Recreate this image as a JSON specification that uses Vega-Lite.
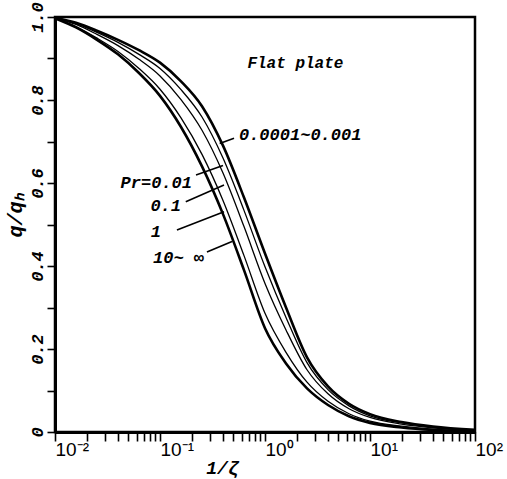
{
  "$schema": "https://vega.github.io/schema/vega-lite/v6.json",
  "width": 420,
  "height": 415,
  "autosize": {"type": "none"},
  "padding": {"left": 55, "top": 17, "right": 32, "bottom": 47},
  "background": "white",
  "config": {
    "view": {"stroke": "black", "strokeWidth": 2.5},
    "axis": {
      "domainColor": "black",
      "domainWidth": 3,
      "tickColor": "black",
      "tickWidth": 1.6,
      "grid": false,
      "labelColor": "black",
      "titleColor": "black"
    }
  },
  "datasets": {
    "curves": [
      {"pr": "10~∞", "x": 0.01, "y": 0.997}, {"pr": "10~∞", "x": 0.01585, "y": 0.975}, {"pr": "10~∞", "x": 0.02512, "y": 0.945},
      {"pr": "10~∞", "x": 0.03981, "y": 0.91}, {"pr": "10~∞", "x": 0.0631, "y": 0.865}, {"pr": "10~∞", "x": 0.1, "y": 0.81},
      {"pr": "10~∞", "x": 0.1585, "y": 0.735}, {"pr": "10~∞", "x": 0.2512, "y": 0.64}, {"pr": "10~∞", "x": 0.3981, "y": 0.525},
      {"pr": "10~∞", "x": 0.631, "y": 0.39}, {"pr": "10~∞", "x": 1, "y": 0.25}, {"pr": "10~∞", "x": 1.585, "y": 0.165},
      {"pr": "10~∞", "x": 2.512, "y": 0.105}, {"pr": "10~∞", "x": 3.981, "y": 0.065}, {"pr": "10~∞", "x": 6.31, "y": 0.038},
      {"pr": "10~∞", "x": 10, "y": 0.022}, {"pr": "10~∞", "x": 19.95, "y": 0.011}, {"pr": "10~∞", "x": 39.81, "y": 0.005},
      {"pr": "10~∞", "x": 100, "y": 0.002},

      {"pr": "1", "x": 0.01, "y": 0.997}, {"pr": "1", "x": 0.01585, "y": 0.977}, {"pr": "1", "x": 0.02512, "y": 0.949},
      {"pr": "1", "x": 0.03981, "y": 0.917}, {"pr": "1", "x": 0.0631, "y": 0.876}, {"pr": "1", "x": 0.1, "y": 0.826},
      {"pr": "1", "x": 0.1585, "y": 0.757}, {"pr": "1", "x": 0.2512, "y": 0.669}, {"pr": "1", "x": 0.3981, "y": 0.558},
      {"pr": "1", "x": 0.631, "y": 0.425}, {"pr": "1", "x": 1, "y": 0.286}, {"pr": "1", "x": 1.585, "y": 0.192},
      {"pr": "1", "x": 2.512, "y": 0.12}, {"pr": "1", "x": 3.981, "y": 0.074}, {"pr": "1", "x": 6.31, "y": 0.044},
      {"pr": "1", "x": 10, "y": 0.026}, {"pr": "1", "x": 19.95, "y": 0.014}, {"pr": "1", "x": 39.81, "y": 0.007},
      {"pr": "1", "x": 100, "y": 0.003},

      {"pr": "0.1", "x": 0.01, "y": 0.998}, {"pr": "0.1", "x": 0.01585, "y": 0.982}, {"pr": "0.1", "x": 0.02512, "y": 0.958},
      {"pr": "0.1", "x": 0.03981, "y": 0.931}, {"pr": "0.1", "x": 0.0631, "y": 0.898}, {"pr": "0.1", "x": 0.1, "y": 0.858},
      {"pr": "0.1", "x": 0.1585, "y": 0.801}, {"pr": "0.1", "x": 0.2512, "y": 0.727}, {"pr": "0.1", "x": 0.3981, "y": 0.624},
      {"pr": "0.1", "x": 0.631, "y": 0.495}, {"pr": "0.1", "x": 1, "y": 0.358}, {"pr": "0.1", "x": 1.585, "y": 0.246},
      {"pr": "0.1", "x": 2.512, "y": 0.15}, {"pr": "0.1", "x": 3.981, "y": 0.092}, {"pr": "0.1", "x": 6.31, "y": 0.056},
      {"pr": "0.1", "x": 10, "y": 0.035}, {"pr": "0.1", "x": 19.95, "y": 0.019}, {"pr": "0.1", "x": 39.81, "y": 0.01},
      {"pr": "0.1", "x": 100, "y": 0.004},

      {"pr": "0.01", "x": 0.01, "y": 0.998}, {"pr": "0.01", "x": 0.01585, "y": 0.984}, {"pr": "0.01", "x": 0.02512, "y": 0.963},
      {"pr": "0.01", "x": 0.03981, "y": 0.939}, {"pr": "0.01", "x": 0.0631, "y": 0.91}, {"pr": "0.01", "x": 0.1, "y": 0.876},
      {"pr": "0.01", "x": 0.1585, "y": 0.825}, {"pr": "0.01", "x": 0.2512, "y": 0.759}, {"pr": "0.01", "x": 0.3981, "y": 0.66},
      {"pr": "0.01", "x": 0.631, "y": 0.534}, {"pr": "0.01", "x": 1, "y": 0.398}, {"pr": "0.01", "x": 1.585, "y": 0.276},
      {"pr": "0.01", "x": 2.512, "y": 0.167}, {"pr": "0.01", "x": 3.981, "y": 0.102}, {"pr": "0.01", "x": 6.31, "y": 0.063},
      {"pr": "0.01", "x": 10, "y": 0.039}, {"pr": "0.01", "x": 19.95, "y": 0.022}, {"pr": "0.01", "x": 39.81, "y": 0.012},
      {"pr": "0.01", "x": 100, "y": 0.004},

      {"pr": "0.0001~0.001", "x": 0.01, "y": 0.998}, {"pr": "0.0001~0.001", "x": 0.01585, "y": 0.986}, {"pr": "0.0001~0.001", "x": 0.02512, "y": 0.967},
      {"pr": "0.0001~0.001", "x": 0.03981, "y": 0.945}, {"pr": "0.0001~0.001", "x": 0.0631, "y": 0.92}, {"pr": "0.0001~0.001", "x": 0.1, "y": 0.89},
      {"pr": "0.0001~0.001", "x": 0.1585, "y": 0.845}, {"pr": "0.0001~0.001", "x": 0.2512, "y": 0.785}, {"pr": "0.0001~0.001", "x": 0.3981, "y": 0.69},
      {"pr": "0.0001~0.001", "x": 0.631, "y": 0.565}, {"pr": "0.0001~0.001", "x": 1, "y": 0.43}, {"pr": "0.0001~0.001", "x": 1.585, "y": 0.3},
      {"pr": "0.0001~0.001", "x": 2.512, "y": 0.18}, {"pr": "0.0001~0.001", "x": 3.981, "y": 0.11}, {"pr": "0.0001~0.001", "x": 6.31, "y": 0.068},
      {"pr": "0.0001~0.001", "x": 10, "y": 0.043}, {"pr": "0.0001~0.001", "x": 19.95, "y": 0.024}, {"pr": "0.0001~0.001", "x": 39.81, "y": 0.013},
      {"pr": "0.0001~0.001", "x": 100, "y": 0.005}
    ],
    "leaders": [
      {"x": 0.37, "y": 0.695, "x2": 0.507, "y2": 0.708},
      {"x": 0.2203, "y": 0.619, "x2": 0.398, "y2": 0.642},
      {"x": 0.176, "y": 0.555, "x2": 0.407, "y2": 0.595},
      {"x": 0.145, "y": 0.487, "x2": 0.407, "y2": 0.531},
      {"x": 0.28, "y": 0.434, "x2": 0.485, "y2": 0.459}
    ],
    "labelsRight": [
      {"x": 0.2018, "y": 0.6, "label": "Pr=0.01"},
      {"x": 0.1585, "y": 0.545, "label": "0.1"},
      {"x": 0.102, "y": 0.482, "label": "1"},
      {"x": 0.2624, "y": 0.419, "label": "10~ ∞"}
    ],
    "labelsLeft": [
      {"x": 0.565, "y": 0.716, "label": "0.0001~0.001"}
    ],
    "notes": [
      {"x": 0.68, "y": 0.89, "label": "Flat plate"}
    ]
  },
  "encoding": {
    "x": {
      "field": "x",
      "type": "quantitative",
      "scale": {"type": "log", "domain": [0.01, 100]},
      "axis": {
        "values": [0.01, 0.02, 0.03, 0.04, 0.05, 0.06, 0.07, 0.08, 0.09,
                   0.1, 0.2, 0.3, 0.4, 0.5, 0.6, 0.7, 0.8, 0.9,
                   1, 2, 3, 4, 5, 6, 7, 8, 9,
                   10, 20, 30, 40, 50, 60, 70, 80, 90, 100],
        "labelExpr": "datum.value == 0.01 ? '10⁻²' : datum.value == 0.1 ? '10⁻¹' : datum.value == 1 ? '10⁰' : datum.value == 10 ? '10¹' : datum.value == 100 ? '10²' : ''",
        "labelOverlap": false,
        "labelBound": false,
        "labelFlush": false,
        "labelFont": "Liberation Sans",
        "labelFontSize": 19,
        "labelAlign": "left",
        "labelBaseline": "top",
        "labelPadding": -1,
        "tickSize": 9,
        "title": "1/ζ",
        "titleFont": "Liberation Mono",
        "titleFontStyle": "italic",
        "titleFontWeight": "bold",
        "titleFontSize": 18,
        "titleX": 167,
        "titleY": 36,
        "titleAlign": "center",
        "titleBaseline": "middle"
      }
    },
    "y": {
      "field": "y",
      "type": "quantitative",
      "scale": {"domain": [0, 1]},
      "axis": {
        "values": [0, 0.1, 0.2, 0.3, 0.4, 0.5, 0.6, 0.7, 0.8, 0.9, 1],
        "labelExpr": "datum.value == 0 ? '0' : (round(datum.value * 10) % 2 == 0 ? format(datum.value, '.1f') : '')",
        "labelOverlap": false,
        "labelBound": false,
        "labelFlush": false,
        "labelAngle": 270,
        "labelAlign": "center",
        "labelBaseline": "bottom",
        "labelPadding": 1,
        "labelFont": "Liberation Mono",
        "labelFontStyle": "italic",
        "labelFontWeight": "bold",
        "labelFontSize": 17,
        "tickSize": 8,
        "title": "q/qₕ",
        "titleFont": "Liberation Mono",
        "titleFontStyle": "italic",
        "titleFontWeight": "bold",
        "titleFontSize": 20,
        "titleAngle": 270,
        "titleX": -40,
        "titleY": 198,
        "titleAlign": "center",
        "titleBaseline": "middle"
      }
    }
  },
  "layer": [
    {
      "data": {"name": "curves"},
      "transform": [{"filter": "datum.pr == '1' || datum.pr == '0.1' || datum.pr == '0.01'"}],
      "mark": {"type": "line", "interpolate": "monotone", "color": "black", "strokeWidth": 1.3, "clip": true},
      "encoding": {"detail": {"field": "pr", "type": "nominal"}}
    },
    {
      "data": {"name": "curves"},
      "transform": [{"filter": "datum.pr == '10~∞' || datum.pr == '0.0001~0.001'"}],
      "mark": {"type": "line", "interpolate": "monotone", "color": "black", "strokeWidth": 2.6, "clip": true},
      "encoding": {"detail": {"field": "pr", "type": "nominal"}}
    },
    {
      "data": {"name": "leaders"},
      "mark": {"type": "rule", "color": "black", "strokeWidth": 1.6},
      "encoding": {
        "x2": {"field": "x2"},
        "y2": {"field": "y2"}
      }
    },
    {
      "data": {"name": "labelsRight"},
      "mark": {"type": "text", "align": "right", "baseline": "middle", "font": "Liberation Mono", "fontStyle": "italic", "fontWeight": "bold", "fontSize": 17, "color": "black"},
      "encoding": {"text": {"field": "label"}}
    },
    {
      "data": {"name": "labelsLeft"},
      "mark": {"type": "text", "align": "left", "baseline": "middle", "font": "Liberation Mono", "fontStyle": "italic", "fontWeight": "bold", "fontSize": 17, "color": "black"},
      "encoding": {"text": {"field": "label"}}
    },
    {
      "data": {"name": "notes"},
      "mark": {"type": "text", "align": "left", "baseline": "middle", "font": "Liberation Mono", "fontStyle": "italic", "fontWeight": "bold", "fontSize": 16, "color": "black"},
      "encoding": {"text": {"field": "label"}}
    }
  ]
}
